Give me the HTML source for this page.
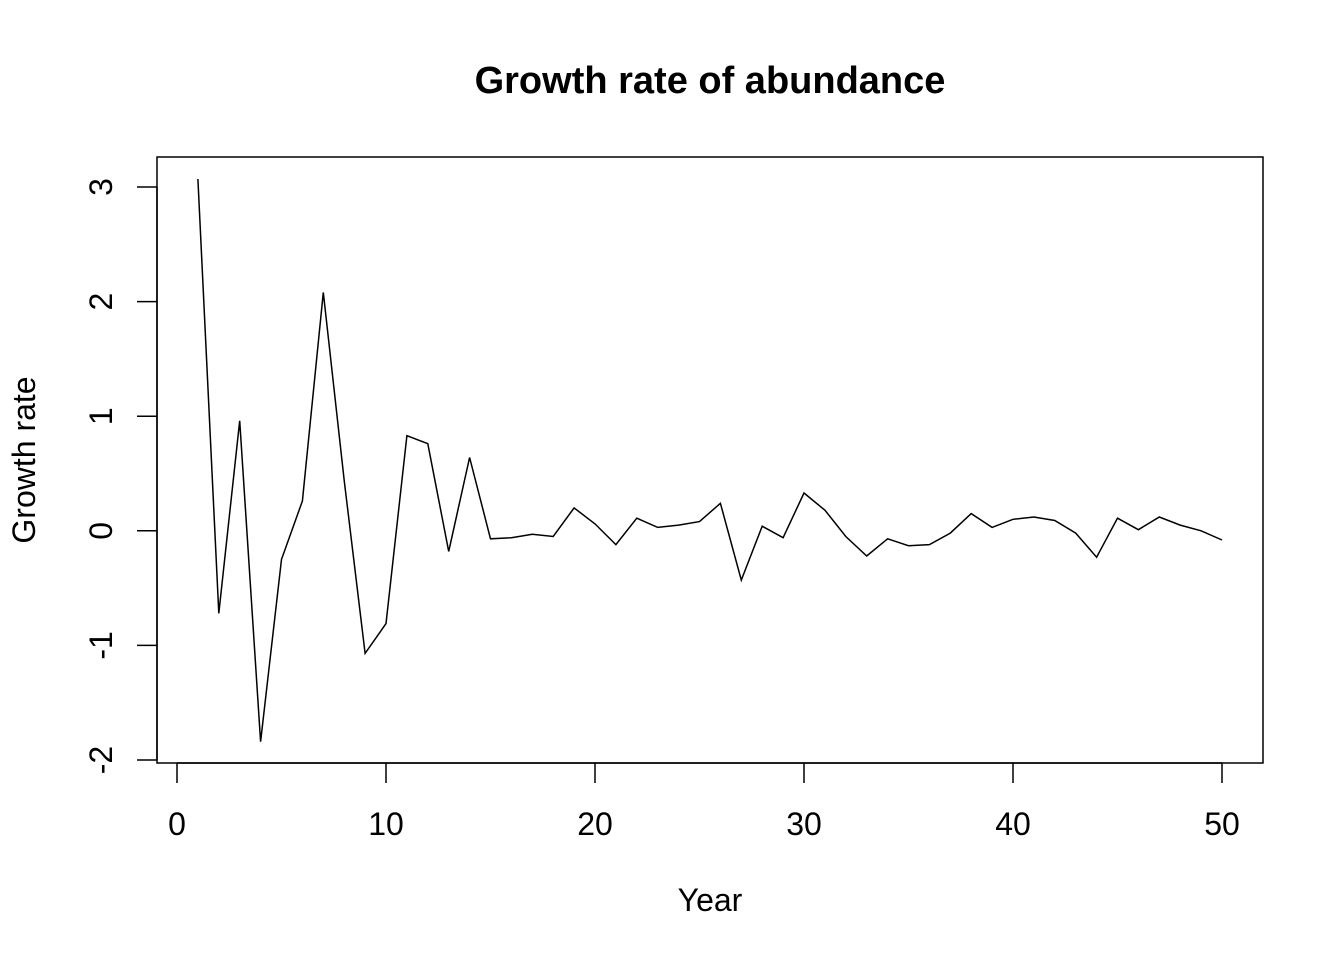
<!DOCTYPE html>
<html><head><meta charset="utf-8"><style>html,body{margin:0;padding:0;background:#fff}</style></head>
<body>
<svg id="s" width="1344" height="960" xmlns="http://www.w3.org/2000/svg" font-family="Liberation Sans, Arial, sans-serif">
<rect width="1344" height="960" fill="#fff"/>
<text x="710" y="93" text-anchor="middle" font-size="38" font-weight="bold">Growth rate of abundance</text>
<rect x="157" y="157" width="1106" height="606" fill="none" stroke="#000" stroke-width="1.5"/>
<g stroke="#000" stroke-width="1.5">
<line x1="177" y1="763" x2="1222" y2="763"/>
<line x1="177" y1="763" x2="177" y2="783"/>
<line x1="386" y1="763" x2="386" y2="783"/>
<line x1="595" y1="763" x2="595" y2="783"/>
<line x1="804" y1="763" x2="804" y2="783"/>
<line x1="1013" y1="763" x2="1013" y2="783"/>
<line x1="1222" y1="763" x2="1222" y2="783"/>
<line x1="157" y1="187" x2="157" y2="760"/>
<line x1="137" y1="187" x2="157" y2="187"/>
<line x1="137" y1="301.6" x2="157" y2="301.6"/>
<line x1="137" y1="416.2" x2="157" y2="416.2"/>
<line x1="137" y1="530.8" x2="157" y2="530.8"/>
<line x1="137" y1="645.4" x2="157" y2="645.4"/>
<line x1="137" y1="760" x2="157" y2="760"/>
</g>
<g font-size="32" text-anchor="middle">
<text x="177" y="835">0</text><text x="386" y="835">10</text><text x="595" y="835">20</text>
<text x="804" y="835">30</text><text x="1013" y="835">40</text><text x="1222" y="835">50</text>
<text x="710" y="911">Year</text>
<text transform="translate(112,187) rotate(-90)">3</text>
<text transform="translate(112,301.6) rotate(-90)">2</text>
<text transform="translate(112,416.2) rotate(-90)">1</text>
<text transform="translate(112,530.8) rotate(-90)">0</text>
<text transform="translate(112,645.4) rotate(-90)">-1</text>
<text transform="translate(112,760) rotate(-90)">-2</text>
<text transform="translate(35,460) rotate(-90)">Growth rate</text>
</g>
<polyline id="p" fill="none" stroke="#000" stroke-width="1.5"/>
<script>
var d=[3.07,-0.72,0.96,-1.84,-0.25,0.26,2.08,0.44,-1.07,-0.81,0.83,0.76,-0.18,0.64,-0.07,-0.06,-0.03,-0.05,0.2,0.06,-0.12,0.11,0.03,0.05,0.08,0.24,-0.43,0.04,-0.06,0.33,0.18,-0.05,-0.22,-0.07,-0.13,-0.12,-0.02,0.15,0.03,0.1,0.12,0.09,-0.02,-0.23,0.11,0.01,0.12,0.05,0.0,-0.08];
document.getElementById('p').setAttribute('points',d.map(function(v,i){return (177+(i+1)*20.9).toFixed(1)+','+(530.8-v*114.6).toFixed(1)}).join(' '));
</script>
</svg>
</body></html>
